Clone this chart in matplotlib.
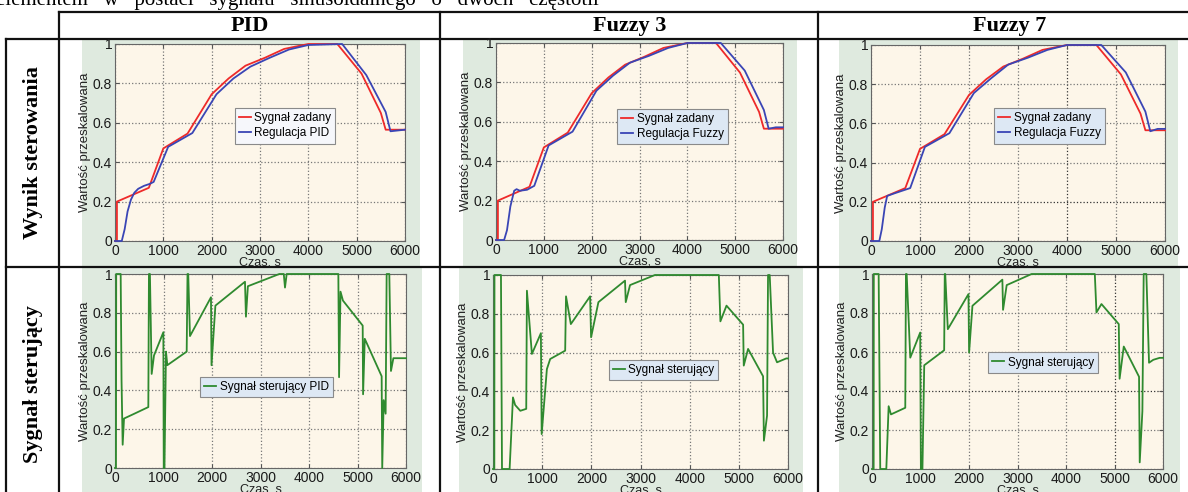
import matplotlib.pyplot as plt
from matplotlib.patches import Rectangle

# -------------------------- dane --------------------------
czas_zad = [0, 40, 40, 700, 1000, 1500, 2000, 2350, 2700, 3100, 3500, 4000, 4600, 5100, 5500, 5600, 6000]
sygnal_zad = [0, 0, 0.2, 0.27, 0.47, 0.545, 0.745, 0.825, 0.89, 0.93, 0.975, 1.0, 1.0, 0.85, 0.65, 0.565, 0.565]

czas_pid = [0, 140, 200, 260, 330, 400, 480, 600, 720, 800, 1100, 1600, 2100, 2450, 2800, 3200, 3600, 4000,
            4700, 5200, 5600, 5700, 6000]
reg_pid = [0, 0, 0.06, 0.15, 0.21, 0.245, 0.265, 0.28, 0.29, 0.3, 0.478, 0.548, 0.745, 0.825, 0.885, 0.93,
           0.972, 0.995, 1.0, 0.842, 0.655, 0.557, 0.565]

czas_f3 = [0, 170, 230, 300, 380, 430, 500, 650, 800, 1100, 1600, 2100, 2450, 2800, 3200, 3600, 4000, 4700,
           5200, 5600, 5700, 5850, 6000]
reg_f3 = [0, 0, 0.05, 0.17, 0.25, 0.258, 0.25, 0.255, 0.275, 0.48, 0.55, 0.758, 0.835, 0.9, 0.935, 0.975,
          1.0, 1.0, 0.86, 0.66, 0.565, 0.572, 0.572]

czas_f7 = [0, 170, 220, 280, 330, 500, 800, 1100, 1600, 2100, 2450, 2800, 3200, 3600, 4000, 4700, 5200,
           5600, 5700, 5850, 6000]
reg_f7 = [0, 0, 0.06, 0.17, 0.23, 0.245, 0.27, 0.48, 0.55, 0.755, 0.83, 0.9, 0.935, 0.975, 1.0, 1.0, 0.86,
          0.66, 0.56, 0.572, 0.572]

czas_u_pid = [0, 20, 25, 117, 128, 135, 158, 186, 400, 687, 700, 720, 756, 804, 997, 1005, 1020, 1051, 1079,
              1478, 1495, 1510, 1546, 1979, 1990, 2070, 2680, 2700, 2740, 3388, 3480, 3505, 3540, 4605, 4620,
              4650, 4700, 5107, 5115, 5150, 5498, 5510, 5540, 5580, 5601, 5656, 5690, 5740, 6000]
u_pid = [0, 0, 1.0, 1.0, 0.66, 0.45, 0.12, 0.255, 0.28, 0.314, 1.0, 1.0, 0.485, 0.58, 0.70, 0.0, 0.0, 0.6,
         0.53, 0.6, 1.0, 1.0, 0.68, 0.88, 0.53, 0.837, 0.96, 0.78, 0.937, 1.0, 1.0, 0.93, 1.0, 1.0, 0.468,
         0.909, 0.863, 0.734, 0.38, 0.666, 0.473, 0.0, 0.35, 0.28, 1.0, 1.0, 0.5, 0.566, 0.566]

czas_u_f3 = [0, 27, 30, 162, 183, 338, 406, 450, 555, 676, 690, 791, 974, 990, 1096, 1163, 1468, 1485, 1583,
             1975, 1995, 2144, 2685, 2700, 2787, 3294, 4593, 4625, 4749, 5087, 5100, 5188, 5493, 5510, 5574,
             5594, 5628, 5696, 5777, 5966, 6000]
u_f3 = [0, 0, 1.0, 1.0, 0.0, 0.0, 0.369, 0.33, 0.3, 0.31, 0.919, 0.593, 0.70, 0.18, 0.515, 0.567, 0.61, 0.89,
        0.747, 0.89, 0.679, 0.86, 0.971, 0.86, 0.948, 1.0, 1.0, 0.761, 0.842, 0.744, 0.533, 0.619, 0.478,
        0.146, 0.275, 1.0, 1.0, 0.6, 0.55, 0.57, 0.57]

czas_u_f7 = [0, 34, 37, 137, 170, 295, 343, 391, 686, 700, 715, 789, 994, 1008, 1040, 1077, 1488, 1500, 1510,
             1563, 1989, 2002, 2071, 2688, 2702, 2777, 3291, 4594, 4628, 4731, 5088, 5105, 5191, 5506, 5520,
             5575, 5602, 5657, 5712, 5800, 5931, 6000]
u_f7 = [0, 0, 1.0, 1.0, 0.0, 0.0, 0.322, 0.28, 0.314, 1.0, 1.0, 0.571, 0.70, 0.0, 0.0, 0.532, 0.609, 1.0, 1.0,
        0.717, 0.897, 0.597, 0.837, 0.971, 0.816, 0.943, 1.0, 1.0, 0.803, 0.846, 0.743, 0.463, 0.628, 0.473,
        0.034, 0.297, 1.0, 1.0, 0.545, 0.56, 0.57, 0.57]

naglowki = ['PID', 'Fuzzy 3', 'Fuzzy 7']
wiersze = ['Wynik sterowania', 'Sygnał sterujący']

# -------------------------- styl --------------------------
W, H = 1188, 492
zielony = '#dfeadf'
kremowy = '#fdf6e9'
czerwony = '#ee2a2a'
niebieski = '#3a45b5'
zielona_linia = '#2f8a2f'
SERIF = ['Liberation Serif', 'DejaVu Serif']
SANS = ['Liberation Sans', 'DejaVu Sans']

fig = plt.figure(figsize=(W / 100, H / 100), dpi=100)
fig.patch.set_facecolor('white')

bg = fig.add_axes([0, 0, 1, 1], zorder=0)
bg.set_xlim(0, W)
bg.set_ylim(H, 0)
bg.axis('off')

# tekst nad tabelą (ucięty u góry)
bg.text(-4, 5, 'elementem   w   postaci   sygnału   sinusoidalnego   o   dwóch   częstotli',
        fontsize=15, family=SERIF, ha='left', va='baseline')

# zielone tła wykresów
for (x0, y0, x1, y1) in [(82, 40, 420, 267), (463, 40, 797, 267), (839, 40, 1178, 267),
                         (82, 268, 422, 492), (459, 268, 803, 492), (839, 268, 1180, 492)]:
    bg.add_patch(Rectangle((x0, y0), x1 - x0, y1 - y0, facecolor=zielony, edgecolor='none'))

# linie tabeli
lw_tab = 1.6
bg.plot([59, W], [11.5, 11.5], color='#111111', lw=lw_tab)
bg.plot([6, W], [38.5, 38.5], color='#111111', lw=lw_tab)
bg.plot([6, W], [267, 267], color='#111111', lw=lw_tab)
bg.plot([6, 6], [38.5, H], color='#111111', lw=lw_tab)
for xv in [59, 440, 818]:
    bg.plot([xv, xv], [11.5, H], color='#111111', lw=lw_tab)

for x, txt in zip([250, 630, 1010], naglowki):
    bg.text(x, 26, txt, fontsize=16, fontweight='bold', family=SERIF, ha='center', va='center')
for y, txt in zip([153, 384], wiersze):
    bg.text(33, y, txt, fontsize=16, fontweight='bold', family=SERIF, ha='center', va='center',
            rotation=90)


def px_axes(x0, y0, x1, y1):
    return fig.add_axes([x0 / W, 1 - y1 / H, (x1 - x0) / W, (y1 - y0) / H], zorder=2)


def styl(ax):
    ax.set_facecolor(kremowy)
    ax.set_xlim(0, 6000)
    ax.set_ylim(0, 1)
    ax.set_xticks(range(0, 6001, 1000))
    ax.set_yticks([0, 0.2, 0.4, 0.6, 0.8, 1])
    ax.set_yticklabels(['0', '0.2', '0.4', '0.6', '0.8', '1'])
    ax.tick_params(direction='in', top=True, right=True, length=3, labelsize=10, pad=2,
                   color='#555555', labelcolor='#1a1a1a')
    for lab in ax.get_xticklabels() + ax.get_yticklabels():
        lab.set_family(SANS)
    ax.grid(True, color='#777777', linestyle=':', linewidth=0.9)
    ax.set_axisbelow(True)
    for s in ax.spines.values():
        s.set_color('#666666')
        s.set_linewidth(0.8)
    ax.set_xlabel('Czas, s', fontsize=9, family=SANS, labelpad=-1, color='#222222')
    ax.set_ylabel('Wartość przeskalowana', fontsize=9.5, family=SANS, labelpad=1, color='#222222')


def linia(ax, x, y, kolor, etykieta):
    ax.plot(x, y, color=kolor, lw=1.3, label=etykieta, clip_on=False, zorder=3)


def legenda(ax, fx, fy, kolor_tla):
    leg = ax.legend(loc='center', bbox_to_anchor=(fx, fy), handlelength=1.0,
                    handletextpad=0.3, borderpad=0.35, labelspacing=0.25, fancybox=False,
                    framealpha=1, edgecolor='#8a8a8a', facecolor=kolor_tla, prop={'family': SANS, 'size': 8.5})
    leg.get_frame().set_linewidth(0.8)
    leg.set_zorder(5)


# -------------------------- wiersz 1: wynik sterowania --------------------------
ax1 = px_axes(115, 44, 405, 241)
styl(ax1)
linia(ax1, czas_zad, sygnal_zad, czerwony, 'Sygnał zadany')
linia(ax1, czas_pid, reg_pid, niebieski, 'Regulacja PID')
legenda(ax1, 0.586, 0.584, '#f6f7fb')

ax2 = px_axes(496, 43, 783, 240)
styl(ax2)
linia(ax2, czas_zad, sygnal_zad, czerwony, 'Sygnał zadany')
linia(ax2, czas_f3, reg_f3, niebieski, 'Regulacja Fuzzy')
legenda(ax2, 0.615, 0.576, '#dde8f4')

ax3 = px_axes(871, 45, 1165, 241)
styl(ax3)
linia(ax3, czas_zad, sygnal_zad, czerwony, 'Sygnał zadany')
linia(ax3, czas_f7, reg_f7, niebieski, 'Regulacja Fuzzy')
legenda(ax3, 0.607, 0.587, '#dde8f4')
ax3.get_xgridlines()[4].set_color('#333333')
ax3.get_ygridlines()[1].set_color('#333333')

# -------------------------- wiersz 2: sygnał sterujący --------------------------
ax4 = px_axes(115, 274, 406, 468)
styl(ax4)
linia(ax4, czas_u_pid, u_pid, zielona_linia, 'Sygnał sterujący PID')
legenda(ax4, 0.521, 0.418, '#dde8f4')

ax5 = px_axes(493, 275, 788, 469)
styl(ax5)
linia(ax5, czas_u_f3, u_f3, zielona_linia, 'Sygnał sterujący')
legenda(ax5, 0.578, 0.510, '#dde8f4')

ax6 = px_axes(872, 274, 1163, 469)
styl(ax6)
linia(ax6, czas_u_f7, u_f7, zielona_linia, 'Sygnał sterujący')
legenda(ax6, 0.588, 0.546, '#dde8f4')
ax6.get_xgridlines()[5].set_color('#333333')
ax6.get_ygridlines()[2].set_color('#333333')

fig.savefig('out.png', dpi=100)
